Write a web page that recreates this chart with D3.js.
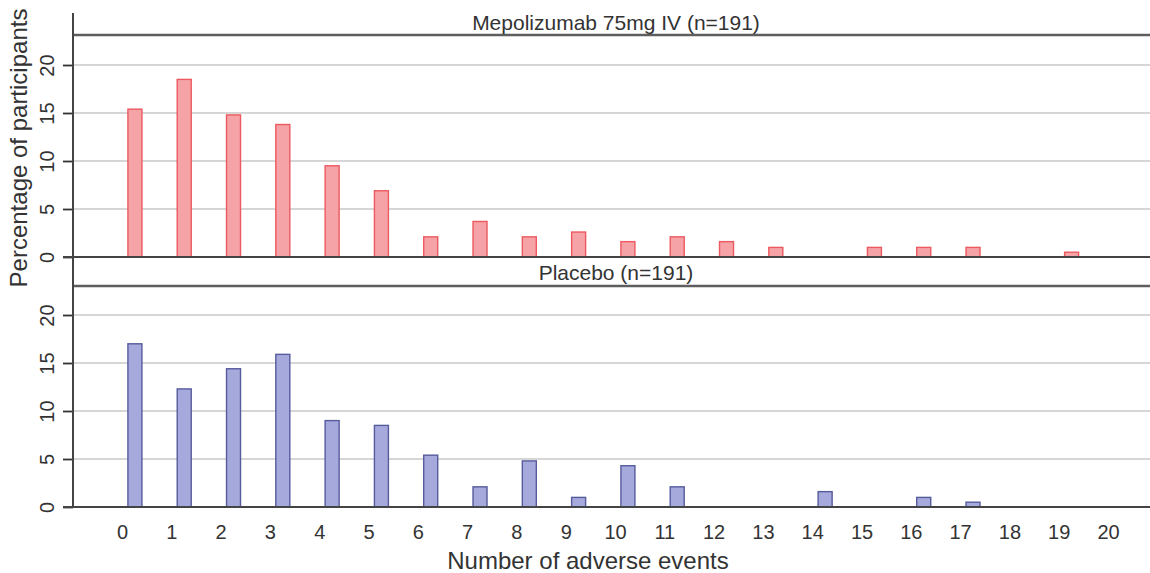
<!DOCTYPE html>
<html>
<head>
<meta charset="utf-8">
<script src="https://cdn.jsdelivr.net/npm/d3@7"></script>
<style>
  html, body { margin: 0; padding: 0; background: #fff; }
  svg { display: block; }
  text { font-family: "Liberation Sans", Arial, sans-serif; fill: #333; }
</style>
</head>
<body>
<svg id="chart" width="1150" height="573"></svg>
<script>
// ---- data ----
const categories = [0,1,2,3,4,5,6,7,8,9,10,11,12,13,14,15,16,17,18,19,20];
const mepolizumabValues = [15.4, 18.5, 14.8, 13.8, 9.5, 6.9, 2.1, 3.7, 2.1, 2.6, 1.6, 2.1, 1.6, 1.0, 0, 1.0, 1.0, 1.0, 0, 0.5, 0];
const placeboValues     = [17.0, 12.3, 14.4, 15.9, 9.0, 8.5, 5.4, 2.1, 4.8, 1.0, 4.3, 2.1, 0, 0, 1.6, 0, 1.0, 0.5, 0, 0, 0];
const yTickValues = [0, 5, 10, 15, 20];
const panelTitles = ["Mepolizumab 75mg IV (n=191)", "Placebo (n=191)"];
const xAxisTitle = "Number of adverse events";
const yAxisTitle = "Percentage of participants";

// ---- layout ----
const W = 1150, H = 573;
const svg = d3.select("#chart");
svg.append("rect").attr("width", W).attr("height", H).attr("fill", "#fff");

const left = 73, right = 1150;
const x = d3.scaleLinear().domain([-1, 21]).range([72.7, 1157.3]);
const barOffset = 0.262, barW = 14;

const panels = [
  { title: panelTitles[0], values: mepolizumabValues, zero: 257, header: 35, titleY: 22,
    fill: "#f5a3a6", stroke: "#ec5a60" },
  { title: panelTitles[1], values: placeboValues, zero: 507, header: 286, titleY: 272,
    fill: "#a6a9dc", stroke: "#565b9c" }
];

panels.forEach(p => {
  const y = d3.scaleLinear().domain([0, 20]).range([p.zero, p.zero - 192]);
  const g = svg.append("g");

  // grid lines
  g.append("g").selectAll("line").data(yTickValues.filter(v => v > 0)).join("line")
    .attr("x1", left).attr("x2", right)
    .attr("y1", d => y(d)).attr("y2", d => y(d))
    .attr("stroke", "#d6d6d6").attr("stroke-width", 2);

  // header line
  g.append("line").attr("x1", left).attr("x2", right)
    .attr("y1", p.header).attr("y2", p.header)
    .attr("stroke", "#5e5e5e").attr("stroke-width", 2.4);

  // strip title
  g.append("text").attr("x", 616).attr("y", p.titleY)
    .attr("text-anchor", "middle").attr("dominant-baseline", "central")
    .style("font-size", "21px").text(p.title);

  // bars
  const data = categories.map((c, i) => ({ c, v: p.values[i] })).filter(d => d.v > 0);
  g.append("g").selectAll("rect").data(data).join("rect")
    .attr("x", d => x(d.c + barOffset) - barW / 2)
    .attr("width", barW)
    .attr("y", d => y(d.v))
    .attr("height", d => p.zero - y(d.v))
    .attr("fill", p.fill)
    .attr("stroke", p.stroke)
    .attr("stroke-width", 1.4);

  // y axis ticks and labels
  const ya = g.append("g").attr("transform", `translate(${left},0)`)
    .call(d3.axisLeft(y).tickValues(yTickValues).tickSize(10).tickSizeOuter(0));
  ya.select(".domain").remove();
  ya.selectAll(".tick line").attr("stroke", "#333").attr("stroke-width", 1.8);
  ya.selectAll(".tick text")
    .attr("x", null).attr("dy", null)
    .attr("transform", "translate(-26,0) rotate(-90)")
    .attr("text-anchor", "middle").attr("dominant-baseline", "central")
    .style("font-size", "20px").style("font-family", "'Liberation Sans', Arial, sans-serif")
    .attr("fill", "#333");

  // zero line
  g.append("line").attr("x1", left - 10).attr("x2", right)
    .attr("y1", p.zero).attr("y2", p.zero)
    .attr("stroke", "#444").attr("stroke-width", 1.8);
});

// vertical axis line
svg.append("line").attr("x1", left).attr("x2", left).attr("y1", 13).attr("y2", 507)
  .attr("stroke", "#444").attr("stroke-width", 2);

// x axis labels
const xa = svg.append("g").attr("transform", "translate(0,507)")
  .call(d3.axisBottom(x).tickValues(categories).tickSize(0).tickFormat(d3.format("d")));
xa.select(".domain").remove();
xa.selectAll(".tick text")
  .attr("y", 25).attr("dy", null).attr("dominant-baseline", "central")
  .style("font-size", "20px").style("font-family", "'Liberation Sans', Arial, sans-serif")
  .attr("fill", "#333");

// axis titles
svg.append("text").attr("x", 588).attr("y", 560)
  .attr("text-anchor", "middle").attr("dominant-baseline", "central")
  .style("font-size", "24px").text(xAxisTitle);

svg.append("text")
  .attr("transform", "translate(18,148) rotate(-90)")
  .attr("text-anchor", "middle").attr("dominant-baseline", "central")
  .style("font-size", "24px").text(yAxisTitle);
</script>
</body>
</html>
